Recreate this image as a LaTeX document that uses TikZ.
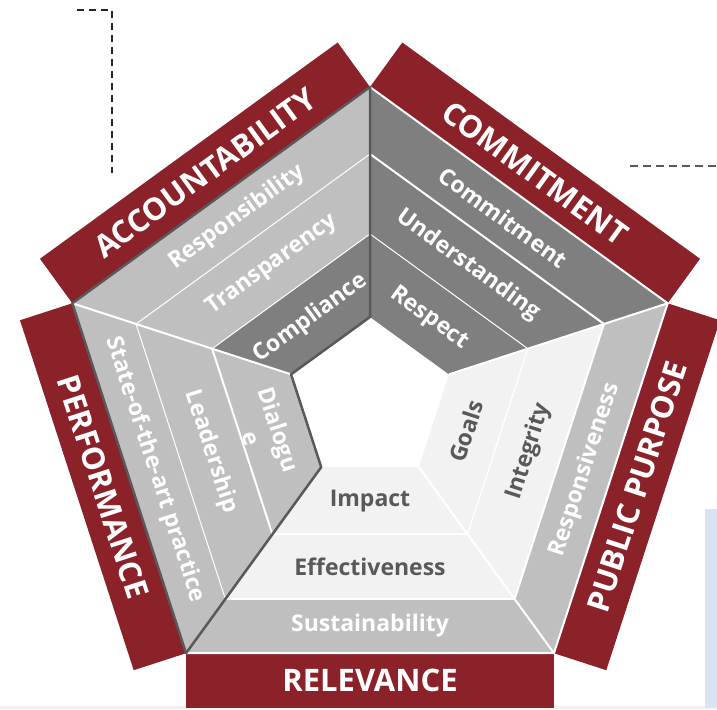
\documentclass[tikz,border=0pt]{standalone}
\usepackage{fontspec}
\setmainfont{Open Sans}
\usepackage{tikz}
\usetikzlibrary{calc}
\definecolor{wine}{HTML}{8B2129}
\definecolor{steel}{HTML}{7F7F7F}
\definecolor{silver}{HTML}{BFBFBF}
\definecolor{mist}{HTML}{F2F2F2}
\definecolor{ink}{HTML}{595959}
\definecolor{skyblue}{HTML}{DAE3F3}
\newcommand{\rOut}{313}
\newcommand{\rOne}{246}
\newcommand{\rTwo}{166}
\newcommand{\rIn}{83}

\begin{document}
\begin{tikzpicture}[x=1pt,y=1pt,
  tag/.style={text=white,font=\fontsize{31}{31}\selectfont\bfseries},
  item/.style={font=\fontsize{23}{29}\selectfont\bfseries,align=center},
  shadow/.style={ink,line width=2.5pt,line join=round}]
\useasboundingbox (-370,-309) rectangle (347,400);
\clip (-370,-309) rectangle (347,400);
% remains of the page around the diagram
\fill[black!6] (-370,-309) rectangle (347,-306);
\fill[skyblue] (335,-308) rectangle (347,-109);
\coordinate (hookA) at (-293,390);
\coordinate (hookB) at (-258,390);
\coordinate (hookC) at (-258,227);
\coordinate (leadA) at (260,234);
\coordinate (leadB) at (347,234);
\draw[black!85,line width=1.5pt,dash pattern=on 7pt off 5pt] (hookA) -- (hookB) -- (hookC);
\draw[ink,line width=1.5pt,dash pattern=on 8pt off 5pt] (leadA) -- (leadB);
% red tags on the outer edges
\foreach \a in {-54,18,90,162,234}
  \fill[wine] (\a:\rOut) -- (\a+72:\rOut) -- ($(\a+72:\rOut)+(\a+36:55)$) -- ($(\a:\rOut)+(\a+36:55)$) -- cycle;
% three bands per side
\foreach \a/\cA/\cB/\cC in {-54/silver/mist/mist, 18/steel/steel/steel, 90/silver/silver/steel,
    162/silver/silver/silver, 234/silver/mist/mist} {
  \fill[\cA] (\a:\rOut) -- (\a+72:\rOut) -- (\a+72:\rOne) -- (\a:\rOne) -- cycle;
  \fill[\cB] (\a:\rOne) -- (\a+72:\rOne) -- (\a+72:\rTwo) -- (\a:\rTwo) -- cycle;
  \fill[\cC] (\a:\rTwo) -- (\a+72:\rTwo) -- (\a+72:\rIn) -- (\a:\rIn) -- cycle;
}
\foreach \a/\wA/\wB in {-54/2/1.2, 18/2/1, 90/1/1, 162/1/2, 234/2.2/2} {
  \draw[white,line width=\wA pt] (\a:\rOne) -- (\a+72:\rOne);
  \draw[white,line width=\wB pt] (\a:\rTwo) -- (\a+72:\rTwo);
}
\draw[white,line width=2pt] (234:\rOut) -- (-54:\rOut) -- (18:\rOut) -- (90:\rOut);
\foreach \a in {-54,18,162}
  \draw[white,line width=2pt] (\a:\rIn) -- (\a:\rOut);
\draw[shadow] (90:\rIn) -- (90:\rOut) -- (162:\rOut) -- (234:\rOut) -- (234:\rIn) -- (162:\rIn) -- cycle;
% side titles
\foreach \m/\r/\nm/\t in {126/36/accountability/ACCOUNTABILITY, 54/-36/commitment/COMMITMENT,
    -18/72/publicpurpose/PUBLIC PURPOSE, 270/0/relevance/RELEVANCE, 198/-72/performance/PERFORMANCE}
  \node[tag,rotate=\r] (\nm) at (\m:280.7) {\t};
% band texts
\foreach \m/\r/\dist/\c/\nm/\t in {
    126/36/226/white/responsibility/Responsibility, 126/36/167/white/transparency/Transparency,
    126/36/101/white/compliance/Compliance,
    54/-36/226/white/commitmentband/Commitment, 54/-36/167/white/understanding/Understanding,
    54/-36/101/white/respect/Respect,
    -18/72/226/white/responsiveness/Responsiveness, -18/72/167/ink/integrity/Integrity,
    -18/72/101/ink/goals/Goals,
    270/0/226/white/sustainability/Sustainability, 270/0/167/ink/effectiveness/Effectiveness,
    270/0/101/ink/impact/Impact,
    198/-72/226/white/stateart/State-of-the-art practice, 198/-72/167/white/leadership/Leadership,
    198/-72/110/white/dialogue/Dialogu\\e}
  \node[item,text=\c,rotate=\r] (\nm) at (\m:\dist) {\t};
\end{tikzpicture}
\end{document}
